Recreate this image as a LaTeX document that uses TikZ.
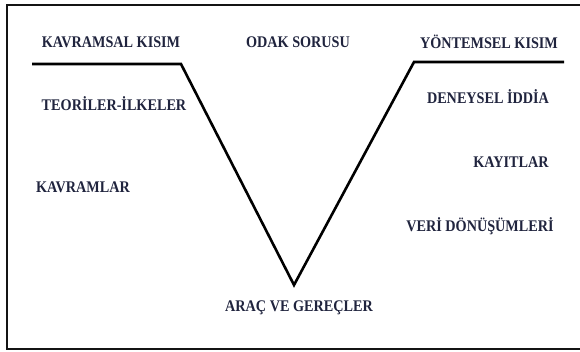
\documentclass[tikz,border=0pt]{standalone}
\usepackage{fontspec}
\usepackage{graphicx}
\setmainfont{Liberation Serif}
\definecolor{txtnavy}{RGB}{32,36,62}
\definecolor{framegray}{RGB}{20,20,20}
\newcommand\tallbox[1]{\scalebox{0.98}[1.12]{#1}}
\tikzset{
  lbl/.style={font=\fontsize{14.5}{16}\selectfont\bfseries, text=txtnavy, inner sep=0pt, anchor=center},
  vline/.style={line width=2.6pt, line join=miter, black},
  framebox/.style={line width=1.6pt, draw=framegray}
}
\begin{document}
\begin{tikzpicture}[x=1pt,y=-1pt]
\useasboundingbox (0,0) rectangle (580,351);
\fill[white] (0,0) rectangle (580,351);
\draw[framebox] (7,5) rectangle (584,349);
% V-shape
\coordinate (l0) at (32,64);
\coordinate (l1) at (181,64);
\coordinate (vb) at (294,285);
\coordinate (r1) at (414,62);
\coordinate (r0) at (564,62);
\draw[vline] (l0) -- (l1) -- (vb) -- (r1) -- (r0);
% labels
\node[lbl] (kk) at (111,42) {\tallbox{KAVRAMSAL KISIM}};
\node[lbl] (os) at (298,42) {\tallbox{ODAK SORUSU}};
\node[lbl] (yk) at (489,42) {\tallbox{YÖNTEMSEL KISIM}};
\node[lbl] (ti) at (114,104) {\tallbox{TEORİLER-İLKELER}};
\node[lbl] (di) at (488,97) {\tallbox{DENEYSEL İDDİA}};
\node[lbl] (ky) at (511,162) {\tallbox{KAYITLAR}};
\node[lbl] (kv) at (83,187) {\tallbox{KAVRAMLAR}};
\node[lbl] (vd) at (480,226) {\tallbox{VERİ DÖNÜŞÜMLERİ}};
\node[lbl] (ag) at (299,308) {\tallbox{ARAÇ VE GEREÇLER}};
\end{tikzpicture}
\end{document}
